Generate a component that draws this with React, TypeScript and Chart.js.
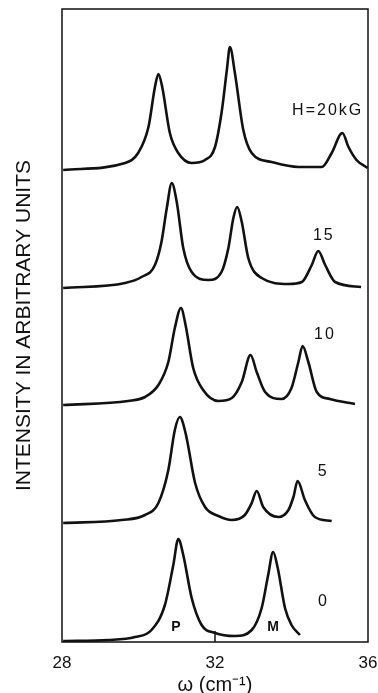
import React, { useEffect, useRef } from "react";
import { Chart, registerables } from "chart.js";

Chart.register(...registerables);

// x axis (frequency ω in cm^-1)
const xMin = 28;
const xMax = 36;
const xTickStep = 4;
const innerTicks = [32];

// vertical axis in arbitrary units (curves are offset for each field)
const yMin = 0;
const yMax = 633;

// spectra: [ω (cm^-1), intensity (arb. units, offset)]
const curve20kG: [number, number][] = [
  [28.03, 472], [29.65, 479], [29.99, 489], [30.26, 515], [30.43, 555], [30.52, 568],
  [30.62, 555], [30.82, 509], [31.04, 489], [31.39, 479], [31.74, 482], [32.0, 495],
  [32.17, 529], [32.31, 572], [32.39, 595], [32.52, 569], [32.74, 512], [32.96, 489],
  [33.48, 480], [34.18, 475], [34.79, 475], [35.05, 489], [35.33, 509], [35.49, 495],
  [35.7, 482], [35.99, 474],
];
const curve15kG: [number, number][] = [
  [28.03, 354], [29.65, 359], [30.08, 365], [30.43, 377], [30.6, 400], [30.74, 434],
  [30.87, 459], [31.0, 440], [31.17, 394], [31.39, 370], [31.83, 362], [32.17, 370],
  [32.35, 394], [32.48, 424], [32.58, 435], [32.7, 420], [32.87, 384], [33.22, 364],
  [33.92, 358], [34.27, 360], [34.53, 377], [34.7, 391], [34.88, 377], [35.14, 360],
  [35.82, 355],
];
const curve10kG: [number, number][] = [
  [28.03, 237], [29.73, 241], [30.17, 245], [30.52, 257], [30.78, 280], [30.95, 314],
  [31.11, 334], [31.23, 317], [31.43, 274], [31.69, 252], [32.09, 241], [32.44, 244],
  [32.7, 260], [32.93, 287], [33.09, 270], [33.31, 250], [33.74, 243], [34.0, 254],
  [34.18, 280], [34.29, 296], [34.44, 280], [34.66, 250], [35.0, 243], [35.66, 238],
];
const curve5kG: [number, number][] = [
  [28.03, 119], [29.56, 122], [30.17, 127], [30.52, 139], [30.78, 172], [30.95, 212],
  [31.08, 225], [31.23, 209], [31.48, 159], [31.74, 135], [32.09, 126], [32.44, 122],
  [32.78, 127], [32.96, 139], [33.09, 151], [33.26, 135], [33.66, 125], [33.92, 132],
  [34.05, 145], [34.16, 161], [34.35, 142], [34.61, 125], [35.05, 121],
];
const curve0kG: [number, number][] = [
  [28.03, 1], [29.21, 2], [29.91, 5], [30.34, 12], [30.69, 37], [30.91, 77],
  [31.04, 103], [31.17, 87], [31.39, 44], [31.65, 17], [32.0, 9], [32.52, 6],
  [32.96, 12], [33.22, 34], [33.39, 67], [33.52, 90], [33.64, 74], [33.83, 34],
  [34.0, 17], [34.22, 7],
];

const curves = [curve20kG, curve15kG, curve10kG, curve5kG, curve0kG];

// field labels next to each curve
const fieldLabels = ["H=20kG", "15", "10", "5", "0"];
const fieldLabelOmega = [34.92, 34.82, 34.85, 34.8, 34.81];
const fieldLabelLevel = [531, 406, 307, 170, 40];

// peak labels on the zero-field curve
const peakLabels = ["P", "M"];
const peakLabelOmega = [30.98, 33.52];
const peakLabelLevel = [15, 15];

const yTitle = "INTENSITY IN ARBITRARY UNITS";
const xTitle = "ω (cm⁻¹)";

const FONT = '"Liberation Sans", Arial, Helvetica, sans-serif';
const INK = "#111";

const framePlugin = {
  id: "frameAndLabels",
  afterDatasetsDraw(chart: any) {
    const { ctx, chartArea: a, scales } = chart;
    const x = scales.x;
    const y = scales.y;
    ctx.save();
    ctx.strokeStyle = INK;
    ctx.lineWidth = 1.5;
    ctx.strokeRect(a.left, a.top, a.right - a.left, a.bottom - a.top);
    for (const t of innerTicks) {
      const px = x.getPixelForValue(t);
      ctx.beginPath();
      ctx.moveTo(px, a.bottom);
      ctx.lineTo(px, a.bottom - 11);
      ctx.stroke();
    }
    ctx.fillStyle = INK;
    ctx.textAlign = "center";
    ctx.textBaseline = "middle";
    ctx.font = `16px ${FONT}`;
    (ctx as any).letterSpacing = "2px";
    fieldLabels.forEach((t, i) => {
      ctx.fillText(t, x.getPixelForValue(fieldLabelOmega[i]) + 1, y.getPixelForValue(fieldLabelLevel[i]));
    });
    ctx.font = `bold 14px ${FONT}`;
    (ctx as any).letterSpacing = "0px";
    peakLabels.forEach((t, i) => {
      ctx.fillText(t, x.getPixelForValue(peakLabelOmega[i]), y.getPixelForValue(peakLabelLevel[i]));
    });
    ctx.restore();
  },
};

export default function App() {
  const ref = useRef<HTMLCanvasElement | null>(null);

  useEffect(() => {
    if (!ref.current) return;
    const chart = new Chart(ref.current, {
      type: "line",
      data: {
        datasets: curves.map((c, i) => ({
          label: fieldLabels[i],
          data: c.map(([w, v]) => ({ x: w, y: v })),
          borderColor: INK,
          borderWidth: 2.6,
          pointRadius: 0,
          fill: false,
          cubicInterpolationMode: "monotone" as const,
        })),
      },
      options: {
        responsive: false,
        animation: false,
        events: [],
        layout: { padding: { top: 9, right: 10, left: 0, bottom: 0 } },
        plugins: {
          legend: { display: false },
          tooltip: { enabled: false },
        },
        scales: {
          x: {
            type: "linear",
            min: xMin,
            max: xMax,
            grid: { display: false },
            border: { display: false },
            ticks: {
              stepSize: xTickStep,
              autoSkip: false,
              maxRotation: 0,
              color: INK,
              padding: 3,
              font: { family: FONT, size: 17 },
            },
            title: {
              display: true,
              text: xTitle,
              color: INK,
              font: { family: FONT, size: 20, lineHeight: 0.8 },
              padding: { top: 0, bottom: 0 },
            },
            afterFit(scale: any) {
              scale.height = 51;
              scale.paddingLeft = 0;
              scale.paddingRight = 0;
            },
          },
          y: {
            type: "linear",
            min: yMin,
            max: yMax,
            grid: { display: false },
            border: { display: false },
            ticks: { display: false },
            title: {
              display: true,
              text: yTitle,
              color: INK,
              font: { family: FONT, size: 21 },
              padding: { top: 12, bottom: 0 },
            },
            afterFit(scale: any) {
              scale.width = 62;
              scale.paddingTop = 0;
              scale.paddingBottom = 0;
            },
          },
        },
      },
      plugins: [framePlugin],
    });
    return () => chart.destroy();
  }, []);

  return (
    <div style={{ position: "absolute", left: 0, top: 0, width: 378, height: 693, background: "#fff" }}>
      <canvas ref={ref} width={378} height={693} style={{ display: "block" }} />
    </div>
  );
}
